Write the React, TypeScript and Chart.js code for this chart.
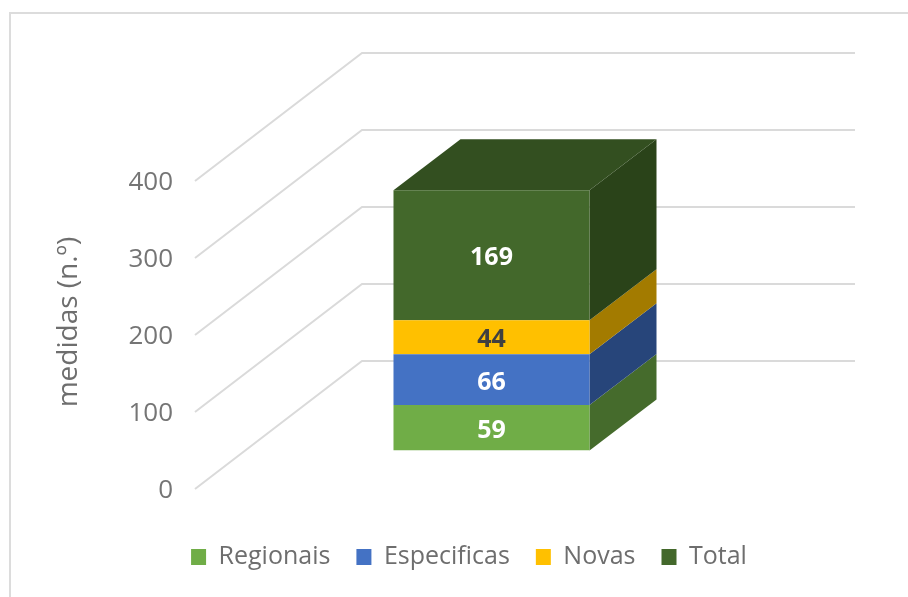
import React, { useEffect, useRef } from "react";
import { Chart, registerables } from "chart.js";

Chart.register(...registerables);

const categories = ["Medidas"];
const regionais = [59];
const especificas = [66];
const novas = [44];
const total = [169];
const seriesNames = ["Regionais", "Especificas", "Novas", "Total"];
const axisTitle = "medidas (n.º)";
const frontColors = ["#70AD47", "#4472C4", "#FFC000", "#43682B"];
const sideColors = ["#456B2C", "#27457A", "#A37B00", "#2A4319"];
const labelColors = ["#FFFFFF", "#FFFFFF", "#404040", "#FFFFFF"];
const topColor = "#334F20";
const FONT = "'Open Sans', sans-serif";

// 3D projection: full floor depth, bar's front offset and bar's own depth
const WALL_DX = 167;
const WALL_DY = -128;
const WALL_RIGHT = 855;
const BAR_SHIFT_X = 50;
const BAR_SHIFT_Y = -38.5;
const BAR_DX = 67;
const BAR_DY = -51;

const quad = (ctx: CanvasRenderingContext2D, pts: number[][], fill: string) => {
  ctx.beginPath();
  pts.forEach((p, i) => (i ? ctx.lineTo(p[0], p[1]) : ctx.moveTo(p[0], p[1])));
  ctx.closePath();
  ctx.fillStyle = fill;
  ctx.fill();
};

const perspective = {
  id: "perspective",
  afterLayout(chart: any) {
    chart.legend.update(760, 60, { left: 0, top: 0, right: 0, bottom: 0 });
  },
  beforeDraw(chart: any) {
    const lg = chart.legend;
    const w = lg.width;
    lg.left = 469 - w / 2;
    lg.right = 469 + w / 2;
    lg.top = 518.5;
    lg.bottom = 597;
    chart.scales.y.getLabelItems().forEach((item: any) => {
      item.options.translation[1] += 2;
    });
  },
  beforeDatasetsDraw(chart: any) {
    const { ctx, chartArea, scales } = chart;
    ctx.save();
    ctx.strokeStyle = "#DADADA";
    ctx.lineWidth = 2;
    scales.y.ticks.forEach((t: any) => {
      const y = scales.y.getPixelForValue(t.value);
      ctx.beginPath();
      ctx.moveTo(chartArea.left, y);
      ctx.lineTo(chartArea.left + WALL_DX, y + WALL_DY);
      ctx.lineTo(WALL_RIGHT, y + WALL_DY);
      ctx.stroke();
    });
    ctx.restore();

    // translate onto the bar's plane; restored after datasets are drawn
    ctx.save();
    ctx.translate(BAR_SHIFT_X, BAR_SHIFT_Y);
    chart.data.datasets.forEach((_: any, i: number) => {
      const el = chart.getDatasetMeta(i).data[0];
      const r = el.x + el.width / 2;
      const l = el.x - el.width / 2;
      quad(
        ctx,
        [
          [r, el.base],
          [r + BAR_DX, el.base + BAR_DY],
          [r + BAR_DX, el.y + BAR_DY],
          [r, el.y],
        ],
        sideColors[i],
      );
      if (i === chart.data.datasets.length - 1) {
        quad(
          ctx,
          [
            [l, el.y],
            [l + BAR_DX, el.y + BAR_DY],
            [r + BAR_DX, el.y + BAR_DY],
            [r, el.y],
          ],
          topColor,
        );
      }
    });
  },
  afterDatasetsDraw(chart: any) {
    const { ctx } = chart;
    ctx.textAlign = "center";
    ctx.textBaseline = "middle";
    ctx.font = `bold 25px ${FONT}`;
    chart.data.datasets.forEach((ds: any, i: number) => {
      const el = chart.getDatasetMeta(i).data[0];
      ctx.fillStyle = labelColors[i];
      ctx.fillText(String(ds.data[0]), el.x, (el.y + el.base) / 2 + 3);
    });
    ctx.restore();
  },
  afterDraw(chart: any) {
    const { ctx } = chart;
    ctx.save();
    ctx.translate(69, 322);
    ctx.rotate(-Math.PI / 2);
    ctx.textAlign = "center";
    ctx.textBaseline = "middle";
    ctx.fillStyle = "#6E6E6E";
    ctx.font = `28px ${FONT}`;
    ctx.fillText(axisTitle, 0, 0);
    ctx.restore();
  },
};

export default function App() {
  const ref = useRef<HTMLCanvasElement>(null);
  useEffect(() => {
    const values = [regionais, especificas, novas, total];
    const chart = new Chart(ref.current!, {
      type: "bar",
      plugins: [perspective],
      data: {
        labels: categories,
        datasets: seriesNames.map((label, i) => ({
          label,
          data: values[i],
          backgroundColor: frontColors[i],
          borderWidth: 0,
          barPercentage: 0.3976,
          categoryPercentage: 1,
        })),
      },
      options: {
        animation: false,
        responsive: false,
        layout: { padding: { left: 50, right: 220, top: 181, bottom: 47 } },
        plugins: {
          tooltip: { enabled: false },
          legend: {
            position: "bottom",
            align: "center",
            labels: {
              boxWidth: 15,
              boxHeight: 16,
              padding: 26,
              color: "#6E6E6E",
              font: { family: FONT, size: 25 },
            },
          },
        },
        scales: {
          x: { stacked: true, display: false },
          y: {
            stacked: true,
            min: 0,
            max: 400,
            ticks: {
              stepSize: 100,
              padding: 22,
              color: "#757575",
              font: { family: FONT, size: 26 },
            },
            grid: { display: false, drawTicks: false },
            border: { display: false },
            afterFit(scale: any) {
              scale.width = 145;
            },
          },
        },
      },
    });
    return () => chart.destroy();
  }, []);
  return (
    <div
      style={{
        position: "fixed",
        left: 0,
        top: 0,
        width: 908,
        height: 597,
        background: "#fff",
      }}
    >
      <canvas
        ref={ref}
        width={908}
        height={597}
        style={{ display: "block", filter: "blur(0.5px)" }}
      />
      <div
        style={{
          position: "absolute",
          left: 9,
          top: 12,
          right: 0,
          bottom: 0,
          borderLeft: "2px solid #DCDCDC",
          borderTop: "2px solid #DCDCDC",
          pointerEvents: "none",
        }}
      />
    </div>
  );
}
